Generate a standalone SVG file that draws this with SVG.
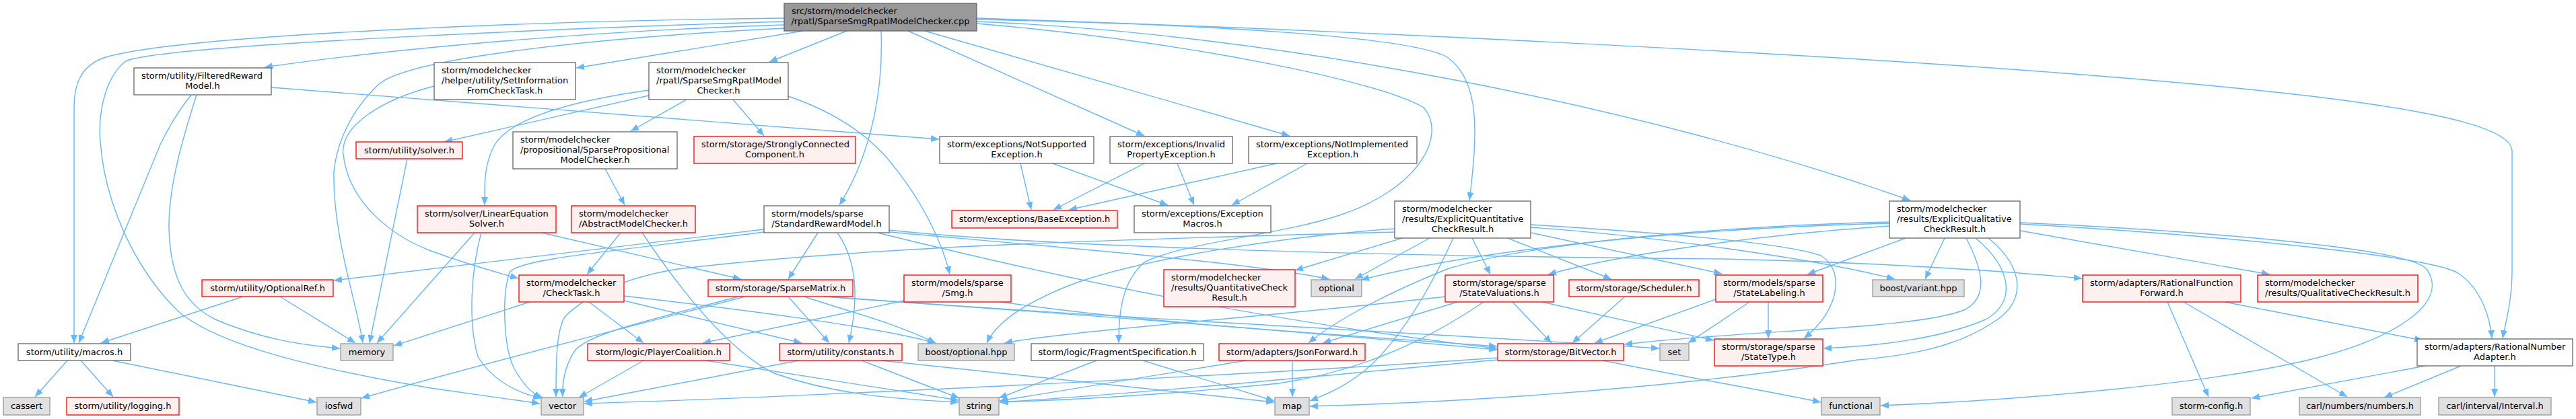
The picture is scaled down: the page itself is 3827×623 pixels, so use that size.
<svg xmlns="http://www.w3.org/2000/svg" width="3827" height="623" viewBox="0 0 3827 623">
<style>
rect{stroke-width:1.3}
.w rect{fill:#ffffff;stroke:#666666}
.t rect{fill:#999999;stroke:#666666}
.r rect{fill:#fff0f0;stroke:#ff0000}
.g rect{fill:#e0e0e0;stroke:#999999}
text{font-family:"DejaVu Sans","Liberation Sans",sans-serif;font-size:13px;fill:#000000}
.c{text-anchor:middle}
#edges path{fill:none;stroke:#63b8ff;stroke-width:1.4;marker-end:url(#a)}
</style>
<defs>
<marker id="a" viewBox="0 0 12 10" refX="12" refY="5" markerWidth="12" markerHeight="10" orient="auto" markerUnits="userSpaceOnUse"><path d="M0,0 L12,5 L0,10 z" fill="#63b8ff"/></marker>
</defs>
<rect x="0" y="0" width="3827" height="623" fill="#ffffff"/>
<g id="edges">
<path d="M1165,27 C850,30 260,50 151,87 C120,100 110,125 110,160 L110,510"/>
<path d="M1165,32 C900,40 260,65 188,90 C160,110 145,160 149,210 C155,300 200,400 265,463 C320,510 450,545 640,577 L802,600"/>
<path d="M1165,37 C900,45 600,70 393,100"/>
<path d="M1165,42 C900,55 610,85 563,125 C520,165 500,215 496,255 C494,350 530,450 539,510"/>
<path d="M1193,46 L856,101"/>
<path d="M1258,46 L1143,92"/>
<path d="M1309,46 C1312,120 1300,220 1247,305"/>
<path d="M1349,46 L1700,202"/>
<path d="M1374,46 L1916,202"/>
<path d="M1451,29 C1800,36 2100,55 2150,85 C2200,120 2195,200 2183,298"/>
<path d="M1451,27 C2000,45 3000,90 3450,145 C3650,170 3732,195 3732,225 L3732,400 C3732,450 3722,480 3718,503"/>
<path d="M1451,32 C1900,50 2450,160 2838,298"/>
<path d="M1451,35 C1750,60 2050,120 2115,160 C2150,200 2110,280 1990,320 C1900,350 1760,360 1700,390 C1665,420 1662,470 1662,510"/>
<path d="M284,141 C265,165 250,190 238,215 L117,510"/>
<path d="M292,141 C270,210 250,280 251,340 C253,420 280,455 320,475 C390,505 450,513 505,518"/>
<path d="M403,130 L1395,207"/>
<path d="M645,128 C560,150 505,190 510,230 C518,300 580,350 640,373 C700,395 740,405 770,414"/>
<path d="M964,142 L660,211"/>
<path d="M964,134 C850,150 760,175 735,215 C718,245 720,280 720,305"/>
<path d="M1020,148 L937,195"/>
<path d="M1089,148 L1135,202"/>
<path d="M1171,143 C1250,170 1300,210 1330,250 C1370,300 1400,360 1411,408"/>
<path d="M899,251 L928,305"/>
<path d="M605,236 L549,510"/>
<path d="M705,346 L560,510"/>
<path d="M715,346 C700,400 695,480 710,530 C730,565 770,585 804,592"/>
<path d="M805,346 L1101,415"/>
<path d="M922,346 L872,408"/>
<path d="M954,346 C1010,430 1080,520 1150,555 C1250,590 1350,594 1424,598"/>
<path d="M1135,341 L496,417"/>
<path d="M1135,345 C900,375 770,385 757,405 C745,440 748,520 765,550 C780,575 790,585 806,591"/>
<path d="M1215,346 L1171,415"/>
<path d="M1244,346 C1275,390 1275,450 1261,510"/>
<path d="M1321,342 C1600,372 2200,382 2560,385 C2800,390 3000,405 3093,414"/>
<path d="M1321,345 C1600,370 1850,390 1975,415"/>
<path d="M1304,346 C1600,420 1900,480 2224,518"/>
<path d="M1343,447 L1044,510"/>
<path d="M1488,449 C1700,480 1950,495 2224,515"/>
<path d="M787,449 L585,514"/>
<path d="M875,449 L956,510"/>
<path d="M927,447 L1191,510"/>
<path d="M927,440 C1100,460 1300,485 1390,510"/>
<path d="M1107,441 C900,495 700,545 537,592"/>
<path d="M1097,441 C950,480 880,495 855,520 C838,545 835,570 836,590"/>
<path d="M1171,441 L1232,510"/>
<path d="M1195,441 C1250,460 1330,480 1390,510"/>
<path d="M1224,441 C1500,460 1900,490 2224,520"/>
<path d="M1230,441 C1600,470 2200,500 2465,518"/>
<path d="M956,536 L860,591"/>
<path d="M1048,536 C1200,560 1330,580 1424,595"/>
<path d="M1187,536 L868,597"/>
<path d="M1280,536 L1425,592"/>
<path d="M1309,536 L1893,598"/>
<path d="M1629,536 L1484,592"/>
<path d="M1698,536 L1893,596"/>
<path d="M1851,536 L1485,596"/>
<path d="M1920,536 L1920,590"/>
<path d="M2225,532 C1900,555 1200,590 868,600"/>
<path d="M2225,535 C2000,555 1700,585 1485,598"/>
<path d="M2381,536 C2500,560 2620,580 2705,598"/>
<path d="M2247,449 L2305,510"/>
<path d="M2291,449 L2546,506"/>
<path d="M2165,449 L1965,510"/>
<path d="M2204,449 C2100,520 2000,555 1900,570 C1700,590 1550,596 1486,598"/>
<path d="M2147,441 C1900,470 1600,490 1492,510"/>
<path d="M2414,441 L2336,510"/>
<path d="M2627,449 L2627,503"/>
<path d="M2549,445 L2369,510"/>
<path d="M2599,449 L2508,510"/>
<path d="M3220,449 L3281,590"/>
<path d="M3244,449 L3487,590"/>
<path d="M3305,449 L3599,506"/>
<path d="M3603,544 L3345,592"/>
<path d="M3656,544 L3542,591"/>
<path d="M3706,544 L3706,590"/>
<path d="M100,536 L52,590"/>
<path d="M120,536 L168,590"/>
<path d="M167,536 L470,598"/>
<path d="M361,441 L150,510"/>
<path d="M416,441 L528,510"/>
<path d="M2083,354 L1924,402"/>
<path d="M2124,354 L2013,415"/>
<path d="M2159,354 C2120,440 2080,500 2040,540 C2010,568 1980,583 1946,596"/>
<path d="M2187,354 L2214,408"/>
<path d="M2240,354 L2394,415"/>
<path d="M2274,346 L2558,407"/>
<path d="M2274,334 C2450,345 2650,360 2705,380 C2740,400 2735,460 2680,503"/>
<path d="M2274,338 C2450,350 2700,385 2815,415"/>
<path d="M2072,345 C1700,355 1300,365 1007,400 C930,412 870,440 840,470 C826,490 826,540 826,590"/>
<path d="M2072,340 C1900,352 1700,385 1600,420 C1520,450 1480,480 1466,510"/>
<path d="M2831,354 L2685,408"/>
<path d="M2889,354 L2860,415"/>
<path d="M2921,354 C2945,400 2955,440 2920,460 C2850,490 2600,490 2413,512"/>
<path d="M2935,354 C2990,400 2995,450 2950,475 C2880,505 2780,515 2709,518"/>
<path d="M2954,354 C3010,400 3010,450 2960,480 C2900,520 2820,530 2760,535 C2600,560 2300,595 1946,604"/>
<path d="M3001,331 C3300,345 3580,370 3605,400 C3640,450 3560,500 3450,530 C3300,570 3000,595 2794,603"/>
<path d="M3001,333 C3300,350 3600,380 3650,405 C3690,430 3700,480 3702,503"/>
<path d="M3001,343 L3372,408"/>
<path d="M2807,332 C2500,340 2200,370 2022,416"/>
<path d="M2807,336 C2600,350 2400,380 2300,408"/>
<path d="M2807,330 C2500,338 2250,368 2150,400 C2050,440 1980,480 1944,510"/>
<path d="M1516,243 L1532,312"/>
<path d="M1564,243 L1735,305"/>
<path d="M1700,243 L1565,312"/>
<path d="M1749,243 L1774,305"/>
<path d="M1896,243 L1588,312"/>
<path d="M1942,243 L1830,305"/>
</g>
<g id="n_top" class="t"><rect x="1165" y="5" width="286" height="41"/><text x="1176" y="21">src/storm/modelchecker</text><text class="c" x="1308" y="36">/rpatl/SparseSmgRpatlModelChecker.cpp</text></g>
<g id="n_fr" class="w"><rect x="199" y="101" width="204" height="40"/><text x="210" y="117">storm/utility/FilteredReward</text><text class="c" x="301" y="132">Model.h</text></g>
<g id="n_si" class="w"><rect x="645" y="93" width="210" height="55"/><text x="656" y="109">storm/modelchecker</text><text x="656" y="124">/helper/utility/SetInformation</text><text class="c" x="750" y="139">FromCheckTask.h</text></g>
<g id="n_sr" class="w"><rect x="964" y="93" width="207" height="55"/><text x="975" y="109">storm/modelchecker</text><text x="975" y="124">/rpatl/SparseSmgRpatlModel</text><text class="c" x="1067.5" y="139">Checker.h</text></g>
<g id="n_solver" class="r"><rect x="529" y="211" width="158" height="25"/><text class="c" x="608" y="228">storm/utility/solver.h</text></g>
<g id="n_sp" class="w"><rect x="762" y="196" width="244" height="55"/><text x="773" y="212">storm/modelchecker</text><text x="773" y="227">/propositional/SparsePropositional</text><text class="c" x="884" y="242">ModelChecker.h</text></g>
<g id="n_scc" class="r"><rect x="1031" y="203" width="240" height="40"/><text x="1042" y="219">storm/storage/StronglyConnected</text><text class="c" x="1151" y="234">Component.h</text></g>
<g id="n_ns" class="w"><rect x="1396" y="203" width="229" height="40"/><text x="1407" y="219">storm/exceptions/NotSupported</text><text class="c" x="1510.5" y="234">Exception.h</text></g>
<g id="n_ip" class="w"><rect x="1649" y="203" width="182" height="40"/><text x="1660" y="219">storm/exceptions/Invalid</text><text class="c" x="1740" y="234">PropertyException.h</text></g>
<g id="n_ni" class="w"><rect x="1855" y="203" width="250" height="40"/><text x="1866" y="219">storm/exceptions/NotImplemented</text><text class="c" x="1980" y="234">Exception.h</text></g>
<g id="n_les" class="r"><rect x="620" y="306" width="206" height="40"/><text x="631" y="322">storm/solver/LinearEquation</text><text class="c" x="723" y="337">Solver.h</text></g>
<g id="n_amc" class="r"><rect x="849" y="306" width="184" height="40"/><text x="860" y="322">storm/modelchecker</text><text class="c" x="941" y="337">/AbstractModelChecker.h</text></g>
<g id="n_srm" class="w"><rect x="1135" y="306" width="186" height="40"/><text x="1146" y="322">storm/models/sparse</text><text class="c" x="1228" y="337">/StandardRewardModel.h</text></g>
<g id="n_be" class="r"><rect x="1414" y="313" width="246" height="26"/><text class="c" x="1537" y="330">storm/exceptions/BaseException.h</text></g>
<g id="n_em" class="w"><rect x="1685" y="306" width="203" height="40"/><text x="1696" y="322">storm/exceptions/Exception</text><text class="c" x="1786.5" y="337">Macros.h</text></g>
<g id="n_eqn" class="w"><rect x="2072" y="299" width="202" height="55"/><text x="2083" y="315">storm/modelchecker</text><text x="2083" y="330">/results/ExplicitQuantitative</text><text class="c" x="2173" y="345">CheckResult.h</text></g>
<g id="n_eql" class="w"><rect x="2807" y="299" width="194" height="55"/><text x="2818" y="315">storm/modelchecker</text><text x="2818" y="330">/results/ExplicitQualitative</text><text class="c" x="2904" y="345">CheckResult.h</text></g>
<g id="n_oref" class="r"><rect x="300" y="416" width="195" height="25"/><text class="c" x="397.5" y="433">storm/utility/OptionalRef.h</text></g>
<g id="n_ct" class="r"><rect x="771" y="409" width="156" height="40"/><text x="782" y="425">storm/modelchecker</text><text class="c" x="849" y="440">/CheckTask.h</text></g>
<g id="n_sm" class="r"><rect x="1052" y="416" width="215" height="25"/><text class="c" x="1159.5" y="433">storm/storage/SparseMatrix.h</text></g>
<g id="n_smg" class="r"><rect x="1343" y="409" width="159" height="40"/><text x="1354" y="425">storm/models/sparse</text><text class="c" x="1422.5" y="440">/Smg.h</text></g>
<g id="n_qcr" class="r"><rect x="1729" y="401" width="195" height="55"/><text x="1740" y="417">storm/modelchecker</text><text x="1740" y="432">/results/QuantitativeCheck</text><text class="c" x="1826.5" y="447">Result.h</text></g>
<g id="n_opt" class="g"><rect x="1948" y="416" width="75" height="25"/><text class="c" x="1985.5" y="433">optional</text></g>
<g id="n_sv" class="r"><rect x="2147" y="409" width="161" height="40"/><text x="2158" y="425">storm/storage/sparse</text><text class="c" x="2227.5" y="440">/StateValuations.h</text></g>
<g id="n_sched" class="r"><rect x="2331" y="416" width="193" height="25"/><text class="c" x="2427.5" y="433">storm/storage/Scheduler.h</text></g>
<g id="n_sl" class="r"><rect x="2549" y="409" width="159" height="40"/><text x="2560" y="425">storm/models/sparse</text><text class="c" x="2628.5" y="440">/StateLabeling.h</text></g>
<g id="n_bvar" class="g"><rect x="2782" y="416" width="136" height="25"/><text class="c" x="2850" y="433">boost/variant.hpp</text></g>
<g id="n_rff" class="r"><rect x="3094" y="409" width="235" height="40"/><text x="3105" y="425">storm/adapters/RationalFunction</text><text class="c" x="3211.5" y="440">Forward.h</text></g>
<g id="n_qlcr" class="r"><rect x="3354" y="409" width="238" height="40"/><text x="3365" y="425">storm/modelchecker</text><text class="c" x="3473" y="440">/results/QualitativeCheckResult.h</text></g>
<g id="n_macros" class="w"><rect x="27" y="511" width="167" height="25"/><text class="c" x="110.5" y="528">storm/utility/macros.h</text></g>
<g id="n_memory" class="g"><rect x="506" y="511" width="78" height="25"/><text class="c" x="545" y="528">memory</text></g>
<g id="n_pc" class="r"><rect x="873" y="511" width="211" height="25"/><text class="c" x="978.5" y="528">storm/logic/PlayerCoalition.h</text></g>
<g id="n_const" class="r"><rect x="1158" y="511" width="182" height="25"/><text class="c" x="1249" y="528">storm/utility/constants.h</text></g>
<g id="n_bopt" class="g"><rect x="1364" y="511" width="143" height="25"/><text class="c" x="1435.5" y="528">boost/optional.hpp</text></g>
<g id="n_fs" class="w"><rect x="1532" y="511" width="256" height="25"/><text class="c" x="1660" y="528">storm/logic/FragmentSpecification.h</text></g>
<g id="n_jf" class="r"><rect x="1811" y="511" width="217" height="25"/><text class="c" x="1919.5" y="528">storm/adapters/JsonForward.h</text></g>
<g id="n_bitv" class="r"><rect x="2225" y="511" width="187" height="25"/><text class="c" x="2318.5" y="528">storm/storage/BitVector.h</text></g>
<g id="n_set" class="g"><rect x="2466" y="511" width="43" height="25"/><text class="c" x="2487.5" y="528">set</text></g>
<g id="n_st" class="r"><rect x="2547" y="504" width="161" height="40"/><text x="2558" y="520">storm/storage/sparse</text><text class="c" x="2627.5" y="535">/StateType.h</text></g>
<g id="n_rna" class="w"><rect x="3591" y="504" width="231" height="40"/><text x="3602" y="520">storm/adapters/RationalNumber</text><text class="c" x="3706.5" y="535">Adapter.h</text></g>
<g id="n_cassert" class="g"><rect x="5" y="591" width="69" height="26"/><text class="c" x="39.5" y="608">cassert</text></g>
<g id="n_log" class="r"><rect x="99" y="591" width="167" height="26"/><text class="c" x="182.5" y="608">storm/utility/logging.h</text></g>
<g id="n_iosfwd" class="g"><rect x="471" y="591" width="65" height="26"/><text class="c" x="503.5" y="608">iosfwd</text></g>
<g id="n_vector" class="g"><rect x="804" y="591" width="63" height="26"/><text class="c" x="835.5" y="608">vector</text></g>
<g id="n_string" class="g"><rect x="1425" y="591" width="59" height="26"/><text class="c" x="1454.5" y="608">string</text></g>
<g id="n_map" class="g"><rect x="1894" y="591" width="51" height="26"/><text class="c" x="1919.5" y="608">map</text></g>
<g id="n_func" class="g"><rect x="2706" y="591" width="87" height="26"/><text class="c" x="2749.5" y="608">functional</text></g>
<g id="n_sc" class="g"><rect x="3227" y="591" width="116" height="26"/><text class="c" x="3285" y="608">storm-config.h</text></g>
<g id="n_num" class="g"><rect x="3416" y="591" width="180" height="26"/><text class="c" x="3506" y="608">carl/numbers/numbers.h</text></g>
<g id="n_int" class="g"><rect x="3623" y="591" width="167" height="26"/><text class="c" x="3706.5" y="608">carl/interval/Interval.h</text></g>
</svg>
